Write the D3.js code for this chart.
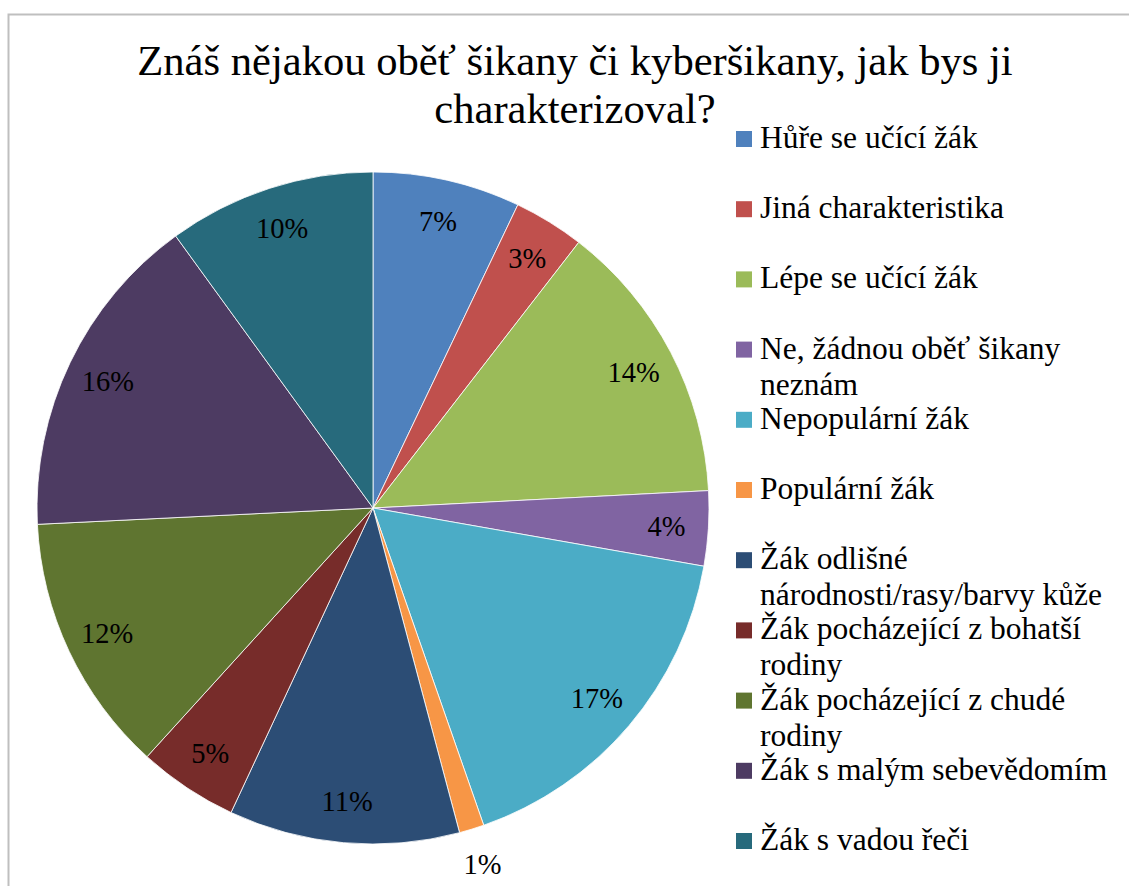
<!DOCTYPE html>
<html>
<head>
<meta charset="utf-8">
<script src="https://cdn.jsdelivr.net/npm/d3@7"></script>
</head>
<body style="margin:0">
<script>
var categories = [
    "Hůře se učící žák",
    "Jiná charakteristika",
    "Lépe se učící žák",
    "Ne, žádnou oběť šikany neznám",
    "Nepopulární žák",
    "Populární žák",
    "Žák odlišné národnosti/rasy/barvy kůže",
    "Žák pocházející z bohatší rodiny",
    "Žák pocházející z chudé rodiny",
    "Žák s malým sebevědomím",
    "Žák s vadou řeči"
];
// shares in percent
var values = [7.1, 3.4, 13.7, 3.6, 16.9, 1.2, 11.1, 4.8, 12.5, 15.8, 10.0];
var colors = ["#4F81BD", "#C0504D", "#9BBB59", "#8064A2", "#4BACC6", "#F79646",
              "#2C4D75", "#772C2A", "#5F7530", "#4D3B62", "#276A7C"];
var titleLines = ["Znáš nějakou oběť šikany či kyberšikany, jak bys ji", "charakterizoval?"];

var width = 1129,
    height = 886,
    radius = 336,
    cx = 373,
    cy = 508;

var svg = d3.select("body").append("svg")
    .attr("width", width)
    .attr("height", height);

// chart area frame (right and bottom edges fall outside the picture)
svg.append("rect")
    .attr("x", 8.5).attr("y", 14.5)
    .attr("width", 1300).attr("height", 1000)
    .attr("fill", "none")
    .attr("stroke", "#bfbfbf")
    .attr("stroke-width", 2);

svg.selectAll("text.title")
    .data(titleLines)
    .enter().append("text")
    .attr("class", "title")
    .attr("x", 575)
    .attr("y", function(d, i) { return 75 + i * 48; })
    .attr("text-anchor", "middle")
    .style("font-family", "'Liberation Serif'")
    .style("font-size", "42.6px")
    .text(function(d) { return d; });

var color = d3.scaleOrdinal().domain(categories).range(colors);

var pie = d3.pie().sort(null).value(function(d) { return d.value; });

var arc = d3.arc().innerRadius(0).outerRadius(radius);
var labelArc = d3.arc().innerRadius(radius * 0.875).outerRadius(radius * 0.875);
var outerLabelArc = d3.arc().innerRadius(radius * 1.11).outerRadius(radius * 1.11);

var data = categories.map(function(c, i) { return {name: c, value: values[i]}; });
var total = d3.sum(values);
var fmt = function(v) { return Math.round(v / total * 100) + "%"; };

var g = svg.append("g")
    .attr("transform", "translate(" + cx + "," + cy + ")");

var arcs = pie(data);

g.selectAll("path")
    .data(arcs)
    .enter().append("path")
    .attr("d", arc)
    .attr("fill", function(d) { return color(d.data.name); })
    .attr("stroke", "#fff")
    .attr("stroke-width", 0.8);

g.selectAll("text.pct")
    .data(arcs)
    .enter().append("text")
    .attr("class", "pct")
    .attr("transform", function(d) {
        var a = d.value < 2 ? outerLabelArc : labelArc;
        return "translate(" + a.centroid(d) + ")";
    })
    .attr("dy", "0.35em")
    .attr("text-anchor", "middle")
    .style("font-family", "'Liberation Serif'")
    .style("font-size", "28.5px")
    .text(function(d) { return fmt(d.value); });

// legend
var legend = svg.append("g");
var maxW = 365;

categories.forEach(function(c, i) {
    var y0 = 148 + i * 70.2;
    legend.append("rect")
        .attr("x", 736).attr("y", y0 - 17)
        .attr("width", 16).attr("height", 16)
        .attr("fill", color(c));
    var t = legend.append("text")
        .attr("x", 760).attr("y", y0)
        .style("font-family", "'Liberation Serif'")
        .style("font-size", "31.5px");
    // wrap words that do not fit
    var words = c.split(" "), line = [], lineNo = 0;
    var ts = t.append("tspan").attr("x", 760).attr("y", y0);
    words.forEach(function(w) {
        line.push(w);
        ts.text(line.join(" "));
        if (ts.node().getComputedTextLength() > maxW && line.length > 1) {
            line.pop();
            ts.text(line.join(" "));
            line = [w];
            lineNo++;
            ts = t.append("tspan").attr("x", 760).attr("y", y0 + lineNo * 36).text(w);
        }
    });
});
</script>
</body>
</html>
